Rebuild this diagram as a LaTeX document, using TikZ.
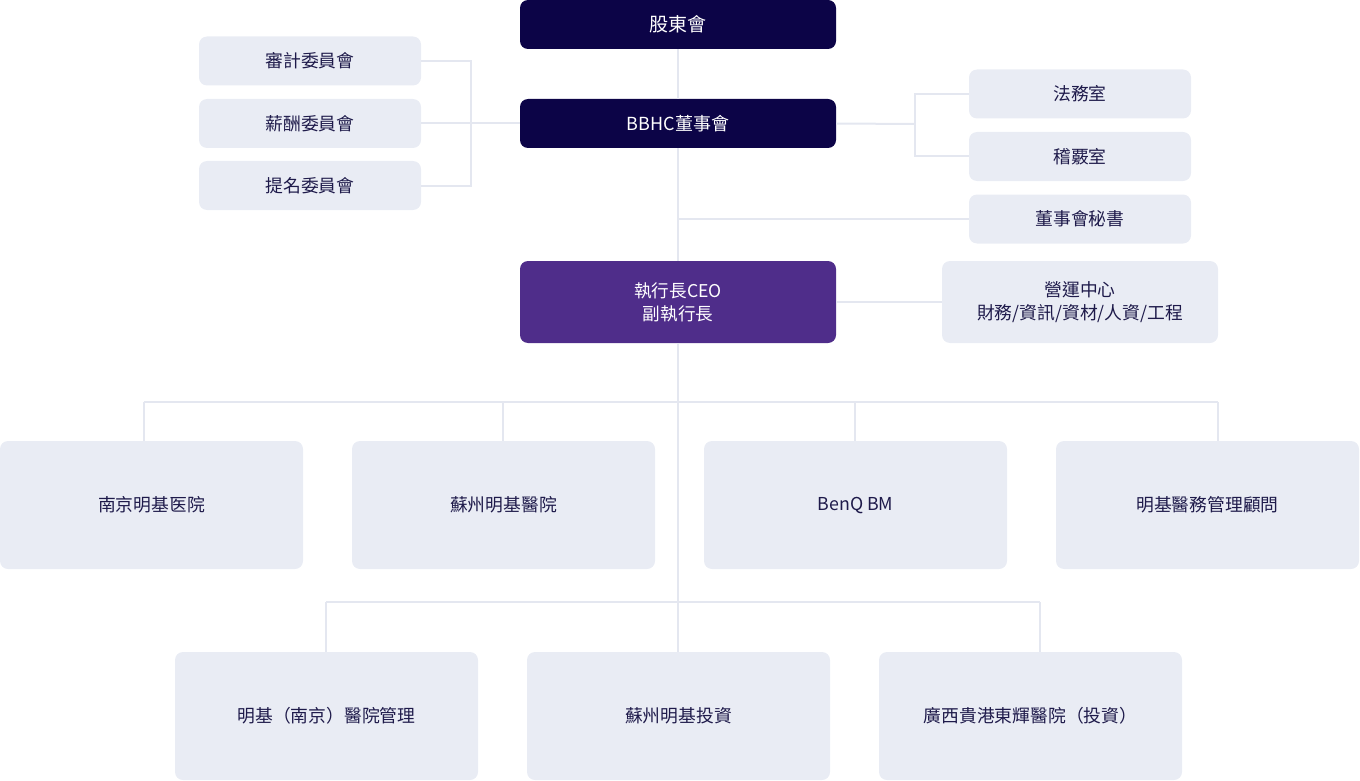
\documentclass[tikz,border=0pt]{standalone}
\usepackage{fontspec}
\setmainfont{Noto Sans CJK TC}
\definecolor{navy}{HTML}{0C0447}
\definecolor{ceopurple}{HTML}{4F2D8A}
\definecolor{lightbox}{HTML}{E9ECF4}
\definecolor{linecol}{HTML}{E4E7F0}
\definecolor{txt}{HTML}{1E1A4A}
\tikzset{
  darkbox/.style={fill=navy, rounded corners=8pt, minimum width=316pt, minimum height=49pt, inner sep=0pt, text=white, font=\fontsize{18}{22}\selectfont, align=center},
  ceobox/.style={fill=ceopurple, rounded corners=8pt, minimum width=316pt, minimum height=82pt, inner sep=0pt, text=white, font=\fontsize{17.6}{23}\selectfont, align=center},
  smallbox/.style={fill=lightbox, rounded corners=8pt, minimum width=222pt, minimum height=49pt, inner sep=0pt, text=txt, font=\fontsize{17.8}{20}\selectfont, align=center},
  opsbox/.style={fill=lightbox, rounded corners=8pt, minimum width=276pt, minimum height=82pt, inner sep=0pt, text=txt, font=\fontsize{17.8}{23}\selectfont, align=center},
  bigbox/.style={fill=lightbox, rounded corners=8pt, minimum width=303pt, minimum height=128pt, inner sep=0pt, text=txt, font=\fontsize{17.8}{20}\selectfont, align=center},
  conn/.style={draw=linecol, line width=2pt}
}
\begin{document}
\begin{tikzpicture}[x=1pt,y=-1pt]
\useasboundingbox (0,0) rectangle (1360,781);
\coordinate (lb) at (471,124);
\coordinate (rb) at (915,124);
\coordinate (d1) at (144,402);
\coordinate (d2) at (503,402);
\coordinate (d3) at (855,402);
\coordinate (d4) at (1218,402);
\coordinate (e1) at (326,602);
\coordinate (e3) at (1040,602);

% nodes
\node[darkbox, font=\fontsize{19}{22}\selectfont] (sh) at (678,24.5) {股東會};
\node[darkbox] (bbhc) at (678,123.5) {BBHC董事會};
\node[smallbox] (aud) at (310,61) {審計委員會};
\node[smallbox] (sal) at (310,123.5) {薪酬委員會};
\node[smallbox] (nom) at (310,185.5) {提名委員會};
\node[smallbox] (law) at (1080,94) {法務室};
\node[smallbox] (chk) at (1080,156.5) {稽覈室};
\node[smallbox] (sec) at (1080,219) {董事會秘書};
\node[ceobox] (ceo) at (678,302) {執行長CEO\\副執行長};
\node[opsbox] (ops) at (1080,302) {營運中心\\財務/資訊/資材/人資/工程};
\node[bigbox] (n1) at (151.5,505) {南京明基医院};
\node[bigbox] (n2) at (503.5,505) {蘇州明基醫院};
\node[bigbox] (n3) at (855.5,505) {BenQ BM};
\node[bigbox] (n4) at (1207.5,505) {明基醫務管理顧問};
\node[bigbox] (m1) at (326.5,716) {明基（南京）醫院管理};
\node[bigbox] (m2) at (678.5,716) {蘇州明基投資};
\node[bigbox] (m3) at (1030.5,716) {廣西貴港東輝醫院（投資）};

% connectors
\draw[conn] (sh.south) -- (bbhc.north);
\draw[conn] (bbhc.south) -- (ceo.north);
\draw[conn] (ceo.south) -- (ceo.south |- m2.north);
\draw[conn] (aud.east) -| (lb) |- (nom.east);
\draw[conn] (sal.east) -- (bbhc.west);
\draw[conn] (law.west) -| (rb) |- (chk.west);
\draw[conn] (bbhc.east) -- (rb);
\draw[conn] (sec.west) -- (sec.west -| ceo.north);
\draw[conn] (ceo.east) -- (ops.west);
\draw[conn] (d1) -- (d4);
\draw[conn] (d1) -- (d1 |- n1.north);
\draw[conn] (d2) -- (d2 |- n2.north);
\draw[conn] (d3) -- (d3 |- n3.north);
\draw[conn] (d4) -- (d4 |- n4.north);
\draw[conn] (e1) -- (e3);
\draw[conn] (e1) -- (e1 |- m1.north);
\draw[conn] (e3) -- (e3 |- m3.north);
\end{tikzpicture}
\end{document}
